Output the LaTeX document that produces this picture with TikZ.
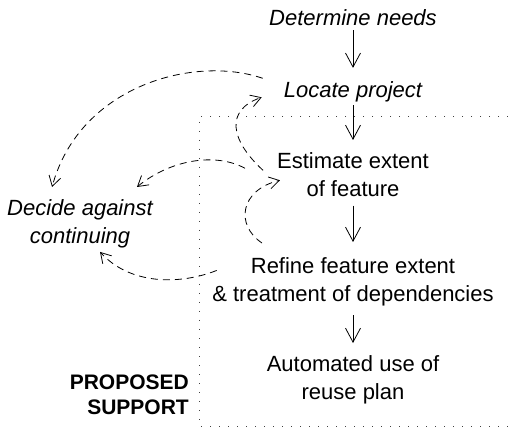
\documentclass[tikz,border=0pt]{standalone}
\usepackage{fontspec}
\setmainfont{Liberation Sans}
\usetikzlibrary{arrows.meta}
\begin{document}
\begin{tikzpicture}[x=1pt,y=-1pt,
  lbl/.style={inner sep=0pt, align=center, font=\fontsize{22}{28}\selectfont},
  itl/.style={inner sep=0pt, align=center, font=\fontsize{22}{28.5}\selectfont\itshape},
  bld/.style={inner sep=0pt, align=right, font=\fontsize{21}{25}\selectfont\bfseries},
  flow/.style={-{Straight Barb[length=14pt,width=15pt]}, line width=0.8pt},
  back/.style={-{Straight Barb[length=10pt,width=12pt]}, line width=0.8pt, dash pattern=on 7pt off 5pt},
  dotline/.style={line width=0.9pt, dash pattern=on 0.9pt off 8.1pt, black!75}]
\useasboundingbox (0,0) rectangle (508,427);
% region
\draw[dotline] (508,116) -- (199,116) -- (199,426) -- (508,426);
% nodes
\node[itl, anchor=base] (need) at (353,26) {Determine needs};
\node[itl, anchor=base] (loc) at (353,98) {Locate project};
\node[lbl, anchor=north] (est) at (353,152) {Estimate extent\\of feature};
\node[lbl, anchor=north] (ref) at (353,257) {Refine feature extent\\\& treatment of dependencies};
\node[lbl, anchor=north] (auto) at (353,355) {Automated use of\\reuse plan};
\node[itl, anchor=north] (dec) at (80,199) {Decide against\\continuing};
\node[bld, anchor=north east] (sup) at (189,374.5) {PROPOSED\\SUPPORT};
% main flow
\draw[flow, shorten <=4pt, shorten >=14pt] (need.south) -- (loc.north);
\draw[flow, shorten <=2.5pt, shorten >=12pt] (loc.south) -- (est.north);
\draw[flow, shorten <=9pt, shorten >=15pt] (est.south) -- (ref.north);
\draw[flow, shorten <=9.5pt, shorten >=12pt] (ref.south) -- (auto.north);
% back edges
\draw[back] ([shift={(-21,-14)}]loc.west) .. controls (195,55) and (80,85) .. ([shift={(45,-12)}]dec.north west);
\draw[back] ([shift={(-14,-4)}]est.west) .. controls (230,140) and (225,110) .. ([shift={(-22,5)}]loc.west);
\draw[back] ([shift={(-32,-6)}]est.west) .. controls (215,152) and (170,160) .. ([shift={(-16,-12)}]dec.north east);
\draw[back] ([shift={(-91,-14)}]ref.north) .. controls (235,225) and (240,190) .. ([shift={(3,6)}]est.west);
\draw[back] ([shift={(4.5,-11)}]ref.west) .. controls (180,285) and (130,285) .. ([shift={(20,3.5)}]dec.south);
\end{tikzpicture}
\end{document}
